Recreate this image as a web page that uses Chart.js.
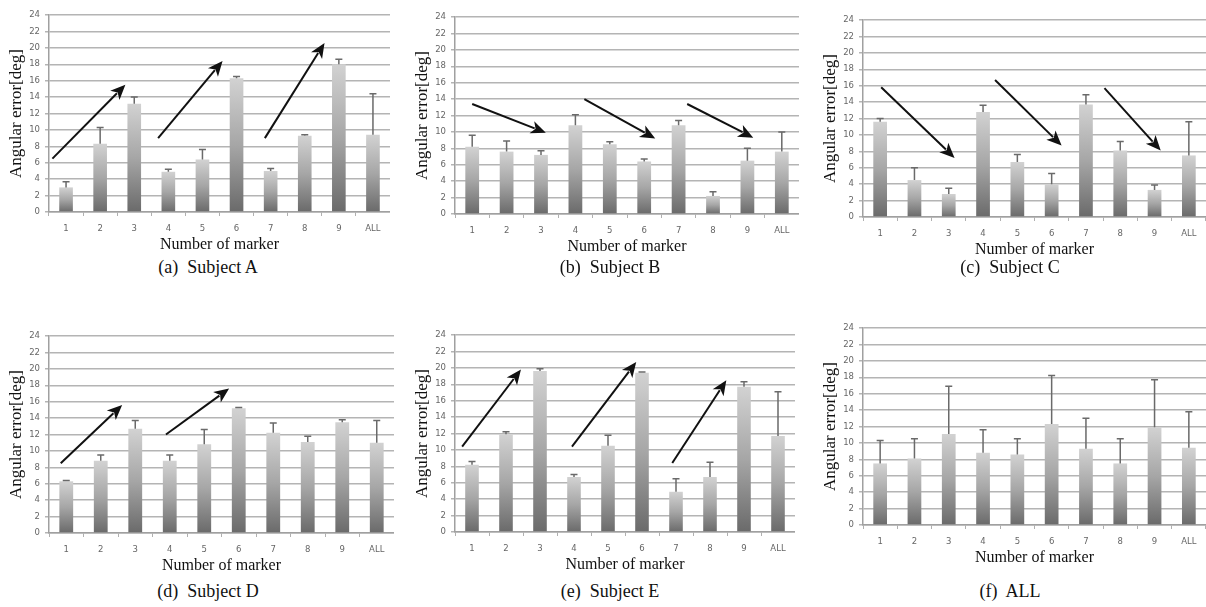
<!DOCTYPE html>
<html>
<head>
<meta charset="utf-8">
<script src="https://cdn.jsdelivr.net/npm/chart.js@4.4.1/dist/chart.umd.min.js"></script>
<style>
  body { margin: 0; background: #fff; width: 1206px; height: 607px; position: relative; overflow: hidden; }
  .panel { position: absolute; }
  .cap { position: absolute; font-family: "Liberation Serif", "DejaVu Serif", serif; font-size: 18px; color: #111; white-space: pre; transform: translateX(-50%); }
</style>
</head>
<body>
<script>
// categories & tick labels
const markers = ['1', '2', '3', '4', '5', '6', '7', '8', '9', 'ALL'];
const yTicks = [0, 2, 4, 6, 8, 10, 12, 14, 16, 18, 20, 22, 24];

// mean angular error per marker
const meanA = [3.0, 8.3, 13.2, 4.9, 6.4, 16.3, 5.0, 9.3, 18.0, 9.4];
const meanB = [8.2, 7.6, 7.2, 10.8, 8.5, 6.4, 10.8, 2.2, 6.5, 7.6];
const meanC = [11.6, 4.5, 2.8, 12.8, 6.7, 4.0, 13.7, 8.1, 3.3, 7.5];
const meanD = [6.3, 8.8, 12.7, 8.8, 10.8, 15.2, 12.2, 11.1, 13.5, 11.0];
const meanE = [8.2, 11.9, 19.6, 6.7, 10.5, 19.4, 4.9, 6.7, 17.7, 11.7];
const meanF = [7.5, 8.1, 11.1, 8.8, 8.6, 12.3, 9.3, 7.5, 11.9, 9.4];

// top of the error whisker (mean + sd)
const topA = [3.7, 10.3, 14.0, 5.2, 7.6, 16.5, 5.3, 9.4, 18.6, 14.4];
const topB = [9.6, 8.9, 7.7, 12.1, 8.8, 6.7, 11.4, 2.7, 8.0, 10.0];
const topC = [12.0, 6.0, 3.5, 13.6, 7.6, 5.3, 14.9, 9.2, 3.9, 11.6];
const topD = [6.4, 9.5, 13.7, 9.5, 12.6, 15.3, 13.4, 11.8, 13.8, 13.7];
const topE = [8.6, 12.2, 19.9, 7.0, 11.8, 19.5, 6.5, 8.5, 18.3, 17.1];
const topF = [10.3, 10.5, 16.9, 11.6, 10.5, 18.2, 13.0, 10.5, 17.7, 13.8];

// trend arrows, [fromIndex, fromValue, toIndex, toValue] in data units
const arrowsA = [[-0.4, 6.5, 1.74, 15.5], [2.7, 9.0, 4.59, 18.4], [5.83, 9.0, 7.58, 20.6]];
const arrowsB = [[0.0, 13.4, 2.14, 9.9], [3.26, 14.0, 5.32, 9.2], [6.25, 13.4, 8.17, 9.3]];
const arrowsC = [[0.03, 15.8, 2.17, 7.2], [3.35, 16.7, 5.29, 8.7], [6.54, 15.7, 8.18, 8.1]];
const arrowsD = [[-0.16, 8.5, 1.62, 15.6], [2.89, 12.0, 4.72, 17.6]];
const arrowsE = [[-0.29, 10.4, 1.44, 19.8], [2.94, 10.4, 4.83, 20.7], [5.89, 8.4, 7.48, 18.5]];
const arrowsF = [];

const captions = ['(a)  Subject A', '(b)  Subject B', '(c)  Subject C', '(d)  Subject D', '(e)  Subject E', '(f)  ALL'];

// layout of each panel: left/top of canvas, width, axis x offset, caption position
const panels = [
  { mean: meanA, top: topA, arrows: arrowsA, left: 0,   y: 0,   w: 390, axis: 49, capX: 208, capY: 257 },
  { mean: meanB, top: topB, arrows: arrowsB, left: 400, y: 2,   w: 399, axis: 55, capX: 610, capY: 257 },
  { mean: meanC, top: topC, arrows: arrowsC, left: 800, y: 5,   w: 406, axis: 63, capX: 1010, capY: 257 },
  { mean: meanD, top: topD, arrows: arrowsD, left: 0,   y: 321, w: 394, axis: 49, capX: 208, capY: 581 },
  { mean: meanE, top: topE, arrows: arrowsE, left: 400, y: 320, w: 395, axis: 55, capX: 610, capY: 581 },
  { mean: meanF, top: topF, arrows: arrowsF, left: 800, y: 313, w: 406, axis: 63, capX: 1010, capY: 581 }
];

const serif = '"Liberation Serif", "DejaVu Serif", serif';
const sans = '"DejaVu Sans", sans-serif';

function barFill(ctx) {
  const chart = ctx.chart;
  if (!chart.chartArea || ctx.type !== 'data') return '#999';
  const y = chart.scales.y;
  const v = ctx.parsed ? ctx.parsed.y : ctx.raw;
  const yTop = y.getPixelForValue(v);
  const yBot = y.getPixelForValue(0);
  if (!isFinite(yTop) || yBot - yTop < 1) return '#999';
  const g = chart.ctx.createLinearGradient(0, yTop, 0, yBot);
  g.addColorStop(0, '#d2d2d2');
  g.addColorStop(0.5, '#a6a6a6');
  g.addColorStop(1, '#6a6a6a');
  return g;
}

const errorBars = {
  id: 'errorBars',
  afterDatasetsDraw(chart, args, opts) {
    const c = chart.ctx, xs = chart.scales.x, ys = chart.scales.y;
    c.save();
    c.strokeStyle = '#6a6a6a';
    c.lineWidth = 1.5;
    opts.tops.forEach((t, i) => {
      const x = xs.getPixelForValue(i);
      const y0 = ys.getPixelForValue(opts.means[i]);
      const y1 = ys.getPixelForValue(t);
      c.beginPath();
      c.moveTo(x, y0); c.lineTo(x, y1);
      c.moveTo(x - 3.5, y1); c.lineTo(x + 3.5, y1);
      c.stroke();
    });
    c.restore();
  }
};

const arrows = {
  id: 'arrows',
  afterDraw(chart, args, opts) {
    const c = chart.ctx, xs = chart.scales.x, ys = chart.scales.y;
    c.save();
    c.strokeStyle = '#111';
    c.fillStyle = '#111';
    c.lineWidth = 2;
    opts.list.forEach(a => {
      const x0 = xs.getPixelForValue(a[0]), y0 = ys.getPixelForValue(a[1]);
      const x1 = xs.getPixelForValue(a[2]), y1 = ys.getPixelForValue(a[3]);
      const ang = Math.atan2(y1 - y0, x1 - x0);
      const hl = 15, hw = 6.5;
      const bx = x1 - hl * Math.cos(ang), by = y1 - hl * Math.sin(ang);
      c.beginPath();
      c.moveTo(x0, y0); c.lineTo(bx + 3 * Math.cos(ang), by + 3 * Math.sin(ang));
      c.stroke();
      c.beginPath();
      c.moveTo(x1, y1);
      c.lineTo(bx + hw * Math.sin(ang), by - hw * Math.cos(ang));
      c.lineTo(bx + 4 * Math.cos(ang), by + 4 * Math.sin(ang));
      c.lineTo(bx - hw * Math.sin(ang), by + hw * Math.cos(ang));
      c.closePath();
      c.fill();
    });
    c.restore();
  }
};

panels.forEach((p, k) => {
  const div = document.createElement('div');
  div.className = 'panel';
  div.style.left = p.left + 'px';
  div.style.top = p.y + 'px';
  const cv = document.createElement('canvas');
  cv.width = p.w; cv.height = 256;
  div.appendChild(cv);
  document.body.appendChild(div);

  const cap = document.createElement('div');
  cap.className = 'cap';
  cap.style.left = p.capX + 'px';
  cap.style.top = p.capY + 'px';
  cap.textContent = captions[k];
  document.body.appendChild(cap);

  new Chart(cv, {
    type: 'bar',
    data: {
      labels: markers,
      datasets: [{ data: p.mean, backgroundColor: barFill, borderWidth: 0, barPercentage: 0.4, categoryPercentage: 1 }]
    },
    plugins: [errorBars, arrows],
    options: {
      responsive: false,
      animation: false,
      events: [],
      layout: { padding: { left: p.axis - 43, top: 15, right: 0, bottom: 0 } },
      plugins: {
        legend: { display: false },
        tooltip: { enabled: false },
        errorBars: { means: p.mean, tops: p.top },
        arrows: { list: p.arrows }
      },
      scales: {
        x: {
          offset: true,
          afterFit: s => { s.height = 44; },
          grid: { display: true, drawOnChartArea: false, offset: true, tickLength: 4, color: '#b0b0b0', lineWidth: 1 },
          border: { color: '#a0a0a0', width: 1.5 },
          ticks: { color: '#666', font: { family: sans, size: 8.5 }, padding: 8, maxRotation: 0 },
          title: { display: true, text: 'Number of marker', color: '#111', font: { family: serif, size: 16 }, padding: { top: 0, bottom: 2 } }
        },
        y: {
          min: 0, max: 24,
          afterFit: s => { s.width = 43; },
          afterBuildTicks: s => { s.ticks = yTicks.map(v => ({ value: v })); },
          grid: { color: '#b4b4b4', lineWidth: 1.5, tickLength: 4 },
          border: { color: '#a0a0a0', width: 1.5 },
          ticks: { color: '#666', font: { family: sans, size: 8.5 }, padding: 5 },
          title: { display: true, text: 'Angular error[deg]', color: '#111', font: { family: serif, size: 17 }, padding: 0 }
        }
      }
    }
  });
});
</script>
</body>
</html>
